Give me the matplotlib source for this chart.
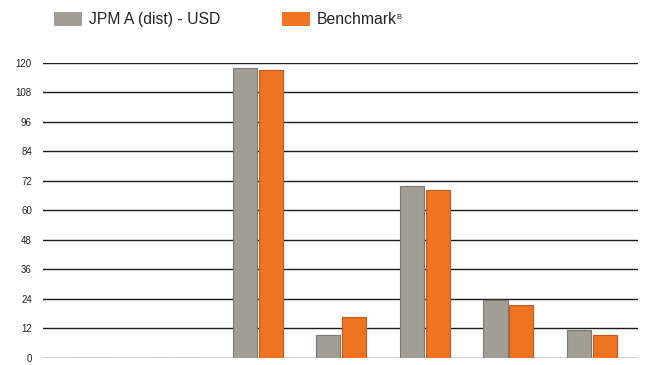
import numpy as np
import matplotlib.pyplot as plt
from matplotlib.patches import Patch

plt.rcParams['font.family'] = ['Liberation Sans', 'DejaVu Sans']

# data (7 periods, first two empty)
categories = ['P1', 'P2', 'P3', 'P4', 'P5', 'P6', 'P7']
fund_vals = [0, 0, 118.1, 9.3, 69.8, 23.4, 11.3]
bench_vals = [0, 0, 117.1, 16.5, 68.2, 21.4, 9.4]
yticks = [0, 12, 24, 36, 48, 60, 72, 84, 96, 108, 120]

gray = '#a29d95'
orange = '#f07322'

fig = plt.figure(figsize=(6.47, 3.65), dpi=100)
ax = fig.add_axes([0.0665, 0.02, 0.9195, 0.8074])

x = np.arange(len(categories))
w = 0.29
off = 0.155
ax.bar(x - off, fund_vals, w, color=gray, edgecolor='#7d7972', linewidth=0.8, zorder=3)
ax.bar(x + off, bench_vals, w, color=orange, edgecolor='#c05a1c', linewidth=0.8, zorder=3)

ax.set_xlim(-0.57, 6.55)
ax.set_ylim(0, 120)
ax.set_yticks(yticks)
ax.set_yticklabels([str(t) for t in yticks], fontsize=7, color='#222222')
ax.set_xticks([])
ax.tick_params(axis='y', length=0, pad=8)
for t in yticks:
    ax.axhline(t, color='#1a1a1a', lw=1.0, zorder=2)
for s in ax.spines.values():
    s.set_visible(False)

handles = [Patch(facecolor=gray, edgecolor='none'),
           Patch(facecolor=orange, edgecolor='none')]
labels = ['JPM A (dist) - USD', 'Benchmark']
leg = fig.legend(handles, labels, loc='upper left', bbox_to_anchor=(0.074, 0.985),
                 ncol=2, frameon=False, fontsize=11.3, handlelength=1.75, handleheight=1.0,
                 handletextpad=0.45, columnspacing=3.95, borderaxespad=0)
for t in leg.get_texts():
    t.set_color('#222222')

# small superscript "B" after the benchmark label
fig.canvas.draw()
bb = leg.get_texts()[1].get_window_extent().transformed(fig.transFigure.inverted())
fig.text(bb.x1 - 0.001, bb.y1 - 0.004, 'B', fontsize=5.5, color='#222222', ha='left', va='top')

fig.savefig('out.png', dpi=100)
